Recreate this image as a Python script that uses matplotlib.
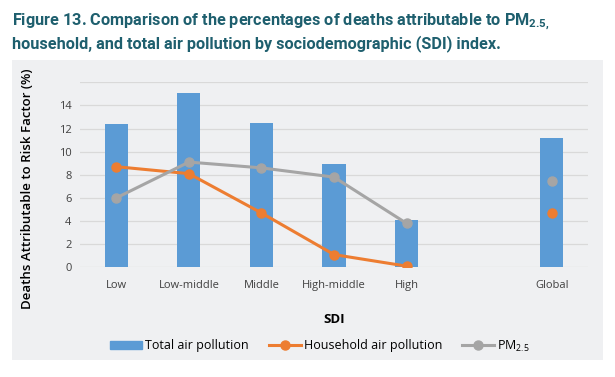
import numpy as np
import matplotlib
matplotlib.use('Agg')
import matplotlib.pyplot as plt
from matplotlib.patches import Rectangle
from matplotlib.lines import Line2D

categories = ['Low', 'Low-middle', 'Middle', 'High-middle', 'High', '', 'Global']
total = [12.4, 15.1, 12.5, 8.9, 4.1, np.nan, 11.2]
household = [8.7, 8.1, 4.7, 1.1, 0.1, np.nan, 4.7]
pm25 = [6.0, 9.1, 8.6, 7.8, 3.8, np.nan, 7.5]

blue = '#5B9BD5'
orange = '#ED7D31'
grey = '#A5A5A5'
bg = '#EFF0F2'
title_col = '#1E5F6E'

plt.rcParams['font.family'] = ['Open Sans', 'DejaVu Sans']

fig = plt.figure(figsize=(6.15, 3.77), dpi=100)
panel = Rectangle((12 / 615, 1 - 360 / 377), 591 / 615, 300 / 377,
                  transform=fig.transFigure, facecolor=bg, edgecolor='none')
panel.set_zorder(-5)
fig.add_artist(panel)

ax = fig.add_axes([80 / 615, 1 - 267.3 / 377, 508 / 615, 185 / 377])
ax.set_facecolor('none')
ax.set_zorder(2)
x = np.arange(len(categories))

ax.bar(x, total, width=0.32, color=blue, zorder=2)
# the line series only join the SDI groups, Global stands alone
ax.plot(x[:5], household[:5], color=orange, lw=2.2, marker='o', ms=6.5, zorder=3)
ax.plot(x[:5], pm25[:5], color=grey, lw=2.2, marker='o', ms=6.5, zorder=3)
ax.plot(x[6], pm25[6], color=grey, marker='o', ms=6.5, zorder=3)
ax.plot(x[6], household[6], color=orange, marker='o', ms=6.5, zorder=3)

ax.set_xlim(-0.5, 6.5)
ax.set_ylim(0, 16)
ax.set_yticks(np.arange(0, 17, 2))
ax.set_yticklabels([str(v) for v in range(0, 15, 2)] + [''])
ax.set_xticks(x)
ax.set_xticklabels(categories)
ax.grid(axis='y', color='#D9D9D9', lw=0.9, zorder=0)
for s in ax.spines.values():
    s.set_visible(False)
ax.tick_params(length=0, labelsize=8, colors='#404040', pad=6)
ax.tick_params(axis='x', pad=9)

ax.set_ylabel('Deaths Attributable to Risk Factor (%)', fontsize=9.5,
              color='black', fontweight='semibold')
ax.yaxis.set_label_coords(-0.09, 0.425)
ax.set_xlabel('SDI', fontsize=9.5, fontweight='bold', labelpad=16)

handles = [Rectangle((0, 0), 1, 1, color=blue),
           Line2D([], [], color=orange, lw=2.2, marker='o', ms=6.5),
           Line2D([], [], color=grey, lw=2.2, marker='o', ms=6.5)]
labels = ['Total air pollution', 'Household air pollution', r'PM$\mathregular{_{2.5}}$']
fig.legend(handles, labels, loc='center', bbox_to_anchor=(0.52, 1 - 346 / 377),
           ncol=3, frameon=False, fontsize=9, handlelength=2.6,
           columnspacing=1.6, handletextpad=0.2)

tfont = dict(family=['Roboto', 'DejaVu Sans'],
             fontweight='bold', color=title_col, fontsize=11.7)
fig.text(12 / 615, 1 - 22 / 377,
         r'Figure 13. Comparison of the percentages of deaths attributable to PM$\mathregular{_{2.5,}}$',
         va='center', ha='left', **tfont)
fig.text(12 / 615, 1 - 44 / 377,
         'household, and total air pollution by sociodemographic (SDI) index.',
         va='center', ha='left', **tfont)

fig.savefig('out.png', dpi=100)
